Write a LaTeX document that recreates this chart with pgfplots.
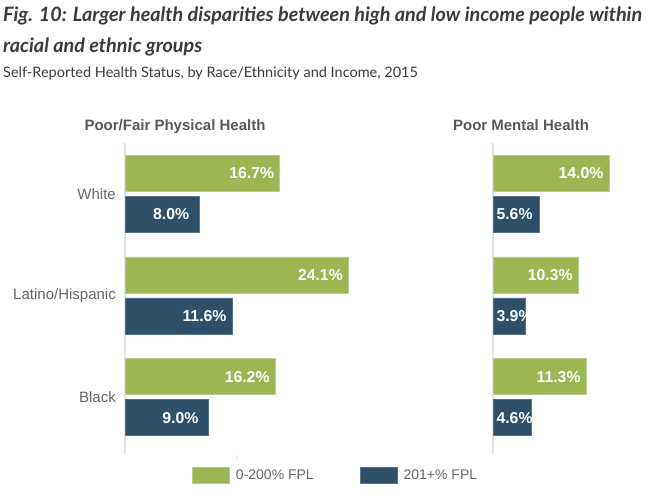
\documentclass[border=0pt]{standalone}
\usepackage{fontspec}
\setmainfont{Liberation Sans}
\newfontfamily\titlefont{Lato}
\usepackage{pgfplots}
\pgfplotsset{compat=1.18}
\definecolor{grn}{HTML}{9DB654}
\definecolor{grnb}{HTML}{B9CB8C}
\definecolor{nav}{HTML}{2F5069}
\definecolor{navb}{HTML}{587388}
\definecolor{lbl}{HTML}{666666}
\definecolor{ptl}{HTML}{595959}
\definecolor{ttl}{HTML}{3B3B3B}
\definecolor{gridc}{HTML}{E4E4E4}
\pgfplotsset{
  panel/.style={
    scale only axis, xbar, bar width=36pt,
    ymin=-0.57, ymax=2.5, height=312pt,
    axis lines*=left,
    x axis line style={draw=none},
    y axis line style={draw=gridc, line width=1.2pt},
    ytick={0,1,2},
    ytick style={draw=none},
    x tick style={draw=gridc, line width=1pt},
    major tick length=5pt, tick align=outside,
    yticklabel style={font=\fontsize{15}{15}\selectfont, text=lbl, inner sep=0pt, xshift=-4pt},
    clip=false,
  },
  gbar/.style={fill=grn, draw=grnb, line width=0.8pt, bar shift=20.5pt},
  nbar/.style={fill=nav, draw=navb, line width=0.8pt, bar shift=-20.5pt},
  vlab/.style={point meta=explicit symbolic, nodes near coords,
    every node near coord/.append style={font=\bfseries\fontsize{15.8}{15.8}\selectfont, text=white, anchor=center, xshift=-28pt}},
}
\begin{document}
\begin{tikzpicture}[x=1pt,y=1pt]
\useasboundingbox (0,0) rectangle (650,496);
% titles
\node[anchor=base west, inner sep=0pt, text=ttl, font=\titlefont\bfseries\itshape\fontsize{19.8}{19.8}\selectfont] at (3,474) {Fig. 10: Larger health disparities between high and low income people within};
\node[anchor=base west, inner sep=0pt, text=ttl, font=\titlefont\bfseries\itshape\fontsize{19.8}{19.8}\selectfont] at (3,443) {racial and ethnic groups};
\node[anchor=base west, inner sep=0pt, text=ttl, font=\titlefont\fontsize{14.5}{14.5}\selectfont] at (3,418) {Self-Reported Health Status, by Race/Ethnicity and Income, 2015};
\node[anchor=base, inner sep=0pt, text=ptl, font=\bfseries\fontsize{15}{15}\selectfont] at (175,365) {Poor/Fair Physical Health};
\node[anchor=base, inner sep=0pt, text=ptl, font=\bfseries\fontsize{15}{15}\selectfont] at (521,365) {Poor Mental Health};

\begin{axis}[panel, at={(125pt,41pt)}, anchor=south west,
  xmin=0, xmax=25, width=231.75pt,
  yticklabels={Black,Latino/Hispanic,White},
  xtick={12}, xticklabels={},
  legend columns=2,
  legend image code/.code={\draw[#1] (0pt,-8pt) rectangle (37pt,8pt);},
  legend style={at={(axis description cs:0.289,-0.064)}, anchor=west, draw=none, fill=none, inner sep=0pt,
    font=\fontsize{14}{14}\selectfont, text=lbl, nodes={inner sep=0pt},
    /tikz/every odd column/.append style={column sep=6pt},
    /tikz/every even column/.append style={column sep=46pt}},
]
\addplot[gbar, vlab] coordinates {(16.7,2) [16.7\%] (24.1,1) [24.1\%] (16.2,0) [16.2\%]};
\addplot[nbar, vlab] coordinates {(8.0,2) [8.0\%] (11.6,1) [11.6\%] (9.0,0) [9.0\%]};
\legend{0-200\% FPL, 201+\% FPL}
\end{axis}

\begin{axis}[panel, at={(493pt,41pt)}, anchor=south west,
  xmin=0, xmax=17, width=140.8pt,
  yticklabels={}, xtick=\empty,
]
\addplot[gbar, vlab] coordinates {(14.0,2) [14.0\%] (10.3,1) [10.3\%] (11.3,0) [11.3\%]};
\addplot[nbar] coordinates {(5.6,2) (3.9,1) (4.6,0)};
\addplot[forget plot, draw=none, fill=none, bar shift=-20.5pt, point meta=explicit symbolic, nodes near coords,
  every node near coord/.append style={font=\bfseries\fontsize{15.8}{15.8}\selectfont, text=white, anchor=west, xshift=0pt}]
  coordinates {(0,2) [5.6\%] (0,1) [3.9\%] (0,0) [4.6\%]};
\end{axis}
\end{tikzpicture}
\end{document}
